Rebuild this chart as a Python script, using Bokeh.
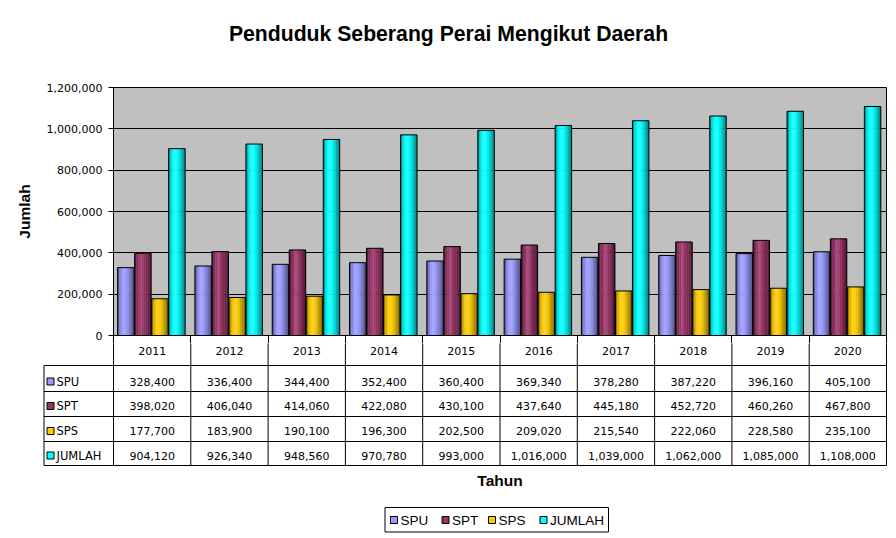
from bokeh.plotting import figure
from bokeh.models import (ColumnDataSource, Range1d, FixedTicker,
                          NumeralTickFormatter, LinearAxis)
from bokeh.transform import dodge
from bokeh.layouts import column
from bokeh.embed import file_html
from bokeh.resources import INLINE
from bokeh.core.properties import value

# ---------------- data ----------------
years = ["2011", "2012", "2013", "2014", "2015", "2016", "2017", "2018", "2019", "2020"]
spu = [328400, 336400, 344400, 352400, 360400, 369340, 378280, 387220, 396160, 405100]
spt = [398020, 406040, 414060, 422080, 430100, 437640, 445180, 452720, 460260, 467800]
sps = [177700, 183900, 190100, 196300, 202500, 209020, 215540, 222060, 228580, 235100]
jumlah = [904120, 926340, 948560, 970780, 993000, 1016000, 1039000, 1062000, 1085000, 1108000]
series_names = ["SPU", "SPT", "SPS", "JUMLAH"]
y_ticks = [0, 200000, 400000, 600000, 800000, 1000000, 1200000]
title_text = "Penduduk Seberang Perai Mengikut Daerah"
y_label = "Jumlah"
x_label = "Tahun"

# ---------------- style ----------------
colors = ["#9999FF", "#993366", "#FFCC00", "#00FFFF"]
offsets = [-0.34, -0.12, 0.10, 0.32]
bar_w = 0.213
N_STRIPS = 9
profile = [(0.0, 0.45), (0.15, 0.85), (0.4, 1.15), (0.7, 0.85), (1.0, 0.5)]

W, H = 896, 538
FRAME_L, FRAME_R, FRAME_T, FRAME_B = 113, 886, 87, 335
TITLE_H = 78
TOP_PAD = FRAME_T - TITLE_H
BOTTOM_PAD = 8
TAB_TOP = FRAME_B + BOTTOM_PAD
TAB_H = H - TAB_TOP
n = len(years)
CAT_PX = (FRAME_R - FRAME_L) / n
TICK_FONT = "DejaVu Sans"
BOLD_FONT = "Liberation Sans"


def prof(t):
    for (t0, f0), (t1, f1) in zip(profile[:-1], profile[1:]):
        if t0 <= t <= t1:
            return f0 + (f1 - f0) * (t - t0) / (t1 - t0)
    return 1.0


def shade(hexc, f):
    rgb = [int(hexc[i:i + 2], 16) for i in (1, 3, 5)]
    out = []
    for c in rgb:
        v = c * f if f <= 1 else c + (255 - c) * (f - 1)
        out.append(max(0, min(255, int(round(v)))))
    return "#%02x%02x%02x" % tuple(out)


def blank_fig(height):
    f = figure(width=W, height=height,
               x_range=Range1d(0, W), y_range=Range1d(height, 0),
               output_backend="svg", toolbar_location=None,
               min_border=0, min_border_left=0, min_border_right=0,
               min_border_top=0, min_border_bottom=0,
               x_axis_location=None, y_axis_location=None,
               outline_line_color=None, background_fill_color="white",
               border_fill_color="white")
    if "frame_align" in f.properties():
        f.frame_align = False
    f.grid.visible = False
    return f


# ---------------- title ----------------
tf = blank_fig(TITLE_H)
tf.text(x=[W / 2], y=[33], text=[title_text], text_align="center",
        text_baseline="middle", text_font=value(BOLD_FONT),
        text_font_style="bold", text_font_size="21.2px", text_color="black")

# category positions: index of each year, centred in its slot
xc = [i + 0.5 for i in range(n)]
src = ColumnDataSource(dict(year=years, xc=xc, SPU=spu, SPT=spt, SPS=sps, JUMLAH=jumlah))

# ---------------- chart ----------------
p = figure(width=W, height=TAB_TOP - TITLE_H,
           x_range=Range1d(0, n), y_range=Range1d(0, 1200000),
           output_backend="svg", toolbar_location=None,
           min_border_left=FRAME_L, min_border_right=W - FRAME_R,
           min_border_top=TOP_PAD, min_border_bottom=BOTTOM_PAD,
           x_axis_location=None,
           background_fill_color="#C0C0C0", border_fill_color="white",
           outline_line_color="black")
if "frame_align" in p.properties():
    p.frame_align = False

p.yaxis.ticker = FixedTicker(ticks=y_ticks)
p.yaxis.formatter = NumeralTickFormatter(format="0,0")
p.yaxis.major_label_text_font = TICK_FONT
p.yaxis.major_label_text_font_size = "11px"
p.yaxis.major_label_text_color = "black"
p.yaxis.major_tick_out = 5
p.yaxis.major_tick_in = 0
p.yaxis.major_tick_line_color = "black"
p.yaxis.minor_tick_line_color = None
p.yaxis.major_label_standoff = 6
p.yaxis.axis_line_color = "black"
p.yaxis.axis_label = y_label
p.yaxis.axis_label_text_font = BOLD_FONT
p.yaxis.axis_label_text_font_style = "bold"
p.yaxis.axis_label_text_font_size = "15.5px"
p.yaxis.axis_label_text_color = "black"
p.yaxis.axis_label_standoff = 11
p.ygrid.grid_line_color = "black"
p.ygrid.grid_line_width = 1
p.xgrid.visible = False

# category boundary ticks (start of the table's column separators), no labels
bounds = list(range(n + 1))
bax = LinearAxis(ticker=FixedTicker(ticks=bounds),
                 major_tick_out=BOTTOM_PAD, major_tick_in=0,
                 major_tick_line_color="black", minor_tick_line_color=None,
                 axis_line_color="black", major_label_text_font_size="1px",
                 major_label_standoff=0, axis_label=None,
                 major_label_overrides={b: "" for b in bounds})
p.add_layout(bax, "below")

for name, col, off in zip(series_names, colors, offsets):
    for k in range(N_STRIPS):
        t = (k + 0.5) / N_STRIPS
        x_off = off - bar_w / 2 + (k + 0.5) * bar_w / N_STRIPS
        p.vbar(x=dodge("xc", x_off), top=name, bottom=0,
               width=bar_w / N_STRIPS * 1.12, source=src,
               fill_color=shade(col, prof(t)), line_color=None)
    p.vbar(x=dodge("xc", off), top=name, bottom=0,
           width=bar_w, source=src, fill_color=None,
           line_color="black", line_width=1)


# ---------------- data table ----------------
def px(x):
    return (x - FRAME_L) / CAT_PX


def py(y):
    return y - TAB_TOP


tb = figure(width=W, height=TAB_H,
            x_range=Range1d(px(0), px(W)), y_range=Range1d(TAB_H, 0),
            output_backend="svg", toolbar_location=None,
            min_border=0, min_border_left=0, min_border_right=0,
            min_border_top=0, min_border_bottom=0,
            x_axis_location=None, y_axis_location=None,
            outline_line_color=None, background_fill_color="white",
            border_fill_color="white")
if "frame_align" in tb.properties():
    tb.frame_align = False
tb.grid.visible = False

TAB_LEFT = px(43.5)
row_lines = [py(v) for v in (365, 391, 416, 441, 465)]
row_text_y = [py(v) for v in (381, 405.5, 430.5, 455)]

tb.segment(x0=[TAB_LEFT] * len(row_lines), x1=[n] * len(row_lines),
           y0=row_lines, y1=row_lines, line_color="black", line_width=1)
tb.segment(x0=bounds, x1=bounds,
           y0=[py(TAB_TOP) - 1] * (n + 1), y1=[row_lines[-1]] * (n + 1),
           line_color="black", line_width=1)
tb.segment(x0=[TAB_LEFT], x1=[TAB_LEFT], y0=[row_lines[0]], y1=[row_lines[-1]],
           line_color="black", line_width=1)

tb.text(x=xc, y=[py(350)] * n, text=years, text_align="center",
        text_baseline="middle", text_font=value(TICK_FONT),
        text_font_size="11px", text_color="black")

series_vals = [spu, spt, sps, jumlah]
for r, (name, vals, col) in enumerate(zip(series_names, series_vals, colors)):
    yv = row_text_y[r]
    tb.text(x=xc, y=[yv] * n, text=["{:,}".format(v) for v in vals],
            text_align="center", text_baseline="middle",
            text_font=value(TICK_FONT), text_font_size="11px", text_color="black")
    tb.rect(x=[px(50)], y=[yv], width=7 / CAT_PX, height=7,
            fill_color=col, line_color="black", line_width=1)
    tb.text(x=[px(56)], y=[yv], text=[name], text_align="left",
            text_baseline="middle", text_font=value(TICK_FONT),
            text_font_size="11.5px", text_color="black")

# x-axis title
tb.text(x=[n / 2], y=[py(480)], text=[x_label], text_align="center",
        text_baseline="middle", text_font=value(BOLD_FONT),
        text_font_style="bold", text_font_size="15.5px", text_color="black")

# legend
tb.quad(left=[px(384.5)], right=[px(608)], top=[py(507)], bottom=[py(531.5)],
        fill_color="white", line_color="black", line_width=1)
leg_sq = [393.5, 445, 491.5, 543]
leg_y = py(519.5)
tb.rect(x=[px(v) for v in leg_sq], y=[leg_y] * 4, width=7 / CAT_PX, height=7,
        fill_color=colors, line_color="black", line_width=1)
tb.text(x=[px(v + 6.5) for v in leg_sq], y=[leg_y] * 4, text=series_names,
        text_align="left", text_baseline="middle", text_font=value(BOLD_FONT),
        text_font_size="13.5px", text_color="black")

layout = column(tf, p, tb, spacing=0)
open("out.html", "w").write(file_html(layout, INLINE))
